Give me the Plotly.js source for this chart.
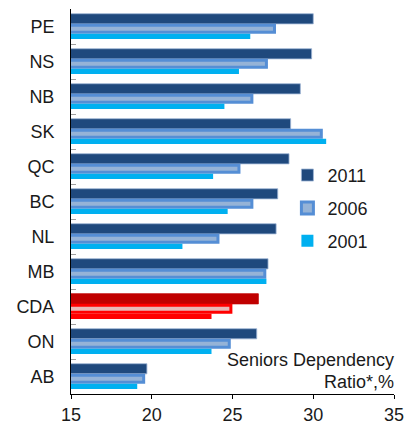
<!DOCTYPE html>
<html>
<head>
<meta charset="utf-8">
<script src="https://cdn.plot.ly/plotly-3.0.1.min.js"></script>
<style>
  html, body { margin: 0; padding: 0; background: #fff; }
  #chart { width: 412px; height: 424px; }
</style>
</head>
<body>
<div id="chart"></div>
<script>
const categories = ['PE','NS','NB','SK','QC','BC','NL','MB','CDA','ON','AB'];
const ratio2011 = [30.0, 29.9, 29.2, 28.6, 28.5, 27.8, 27.7, 27.2, 26.6, 26.5, 19.7];
const ratio2006 = [27.6, 27.1, 26.2, 30.5, 25.4, 26.2, 24.1, 27.0, 24.9, 24.8, 19.5];
const ratio2001 = [26.1, 25.4, 24.5, 30.8, 23.8, 24.7, 21.9, 27.1, 23.7, 23.7, 19.1];
const seriesNames = ['2011', '2006', '2001'];
const noteLines = ['Seniors Dependency', 'Ratio*,%'];
const highlight = 'CDA';

const pick = (a, b) => categories.map(c => c === highlight ? b : a);
const font = 'Arial, "Liberation Sans", sans-serif';

const traces = [
  {
    type: 'bar', orientation: 'h', name: seriesNames[0], legendgroup: 'a',
    y: categories, x: ratio2011,
    offset: -0.365, width: 0.29,
    marker: { color: pick('#1f497d', '#c00000'), line: { color: pick('#9db4d4', '#c00000'), width: 0.8 } }
  },
  {
    type: 'bar', orientation: 'h', name: seriesNames[1], legendgroup: 'b',
    y: categories, x: ratio2006,
    offset: -0.036, width: 0.2,
    marker: { color: pick('#95b3d7', '#e6b9b8'), line: { color: pick('#558ed5', '#ff0000'), width: 3 } }
  },
  {
    type: 'bar', orientation: 'h', name: seriesNames[2], legendgroup: 'c',
    y: categories, x: ratio2001,
    offset: 0.207, width: 0.153,
    marker: { color: pick('#00b0f0', '#ff0000'), line: { width: 0 } }
  }
];

const layout = {
  width: 412, height: 424,
  margin: { l: 71, r: 18, t: 9, b: 30 },
  paper_bgcolor: '#fff', plot_bgcolor: '#fff',
  barmode: 'overlay',
  showlegend: true,
  font: { family: font, size: 18, color: '#1a1a1a' },
  xaxis: {
    range: [15, 35], dtick: 5, tick0: 15,
    showgrid: false, zeroline: false,
    showline: true, linecolor: '#000', linewidth: 1,
    ticks: 'outside', ticklen: 4, tickcolor: '#000',
    tickfont: { family: font, size: 18, color: '#1a1a1a' }
  },
  yaxis: {
    type: 'category', range: [10.5, -0.5],
    showgrid: false, zeroline: false,
    showline: true, linecolor: '#000', linewidth: 1,
    ticks: 'inside', tickson: 'boundaries', ticklen: 5, tickcolor: '#a0a0a0',
    ticklabelstandoff: 12,
    tickfont: { family: font, size: 18, color: '#1a1a1a' }
  },
  legend: {
    x: 0.67, xanchor: 'left', y: 0.616, yanchor: 'top',
    bgcolor: 'rgba(0,0,0,0)', borderwidth: 0,
    tracegroupgap: 6.5,
    font: { family: font, size: 18, color: '#1a1a1a' }
  },
  annotations: [
    {
      text: noteLines[0],
      xref: 'paper', yref: 'paper', x: 1, y: 0,
      xanchor: 'right', yanchor: 'bottom', align: 'right',
      showarrow: false, xshift: 2, yshift: 22,
      font: { family: font, size: 18, color: '#1a1a1a' }
    },
    {
      text: noteLines[1],
      xref: 'paper', yref: 'paper', x: 1, y: 0,
      xanchor: 'right', yanchor: 'bottom', align: 'right',
      showarrow: false, xshift: 2, yshift: 0,
      font: { family: font, size: 18, color: '#1a1a1a' }
    }
  ]
};

Plotly.newPlot('chart', traces, layout, { displayModeBar: false, staticPlot: true });
</script>
</body>
</html>
